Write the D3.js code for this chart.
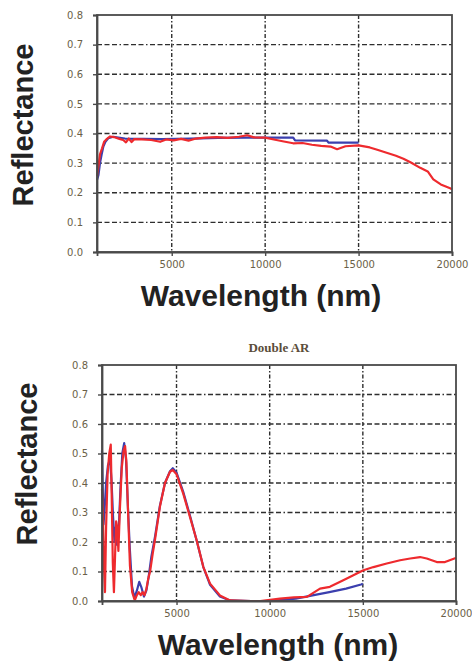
<!DOCTYPE html>
<html>
<head>
<meta charset="utf-8">
<script src="https://cdn.jsdelivr.net/npm/d3@7"></script>
<style>
  html, body { margin: 0; padding: 0; background: #fff; }
  svg { display: block; }
</style>
</head>
<body>
<svg id="fig" width="472" height="663"></svg>
<script>
// Reflectance spectra: measured (blue) and modelled (red), [wavelength nm, R]
const xTicks = [5000, 10000, 15000, 20000];
const yTicks = [0, 0.1, 0.2, 0.3, 0.4, 0.5, 0.6, 0.7, 0.8];
const xTitle = "Wavelength (nm)";
const yTitle = "Reflectance";
const bottomTitle = "Double AR";

// Upper panel
const topBlue = [
  [1000, 0.243], [1080, 0.26], [1160, 0.30], [1250, 0.33], [1340, 0.356], [1450, 0.372],
  [1600, 0.384], [1870, 0.389], [2500, 0.383], [3500, 0.382], [4500, 0.381],
  [6000, 0.383], [7500, 0.385], [9000, 0.386], [10500, 0.386], [11500, 0.386],
  [11600, 0.377], [13300, 0.376], [13400, 0.369], [15000, 0.369]
];
const topRed = [
  [1000, 0.255], [1080, 0.29], [1160, 0.33], [1270, 0.35], [1380, 0.372],
  [1500, 0.38], [1700, 0.39], [1900, 0.388], [2200, 0.382], [2400, 0.378],
  [2550, 0.37], [2700, 0.383], [2850, 0.371], [3000, 0.381], [3400, 0.38],
  [3900, 0.378], [4380, 0.372], [4700, 0.38], [5100, 0.377], [5500, 0.382],
  [5900, 0.376], [6300, 0.383], [6800, 0.386], [7400, 0.388], [8000, 0.385],
  [8600, 0.389], [9040, 0.394], [9400, 0.387], [10000, 0.386], [10600, 0.378],
  [11000, 0.373], [11500, 0.367], [12000, 0.368], [12500, 0.362], [13000, 0.358],
  [13500, 0.356], [13850, 0.347], [14300, 0.357], [15000, 0.36], [15600, 0.353],
  [16000, 0.345], [16500, 0.335], [17000, 0.325], [17400, 0.315], [17800, 0.302],
  [18300, 0.284], [18700, 0.272], [19000, 0.245], [19400, 0.228], [19900, 0.215],
  [20000, 0.212]
];

// Lower panel (double AR)
const botBlue = [
  [1000, 0.51], [1040, 0.38], [1080, 0.26], [1130, 0.30], [1220, 0.40], [1320, 0.46],
  [1430, 0.48], [1510, 0.41], [1590, 0.29], [1670, 0.20], [1740, 0.25], [1810, 0.19],
  [1890, 0.23], [1990, 0.38], [2090, 0.50], [2190, 0.535], [2290, 0.48], [2390, 0.32],
  [2490, 0.18], [2610, 0.05], [2740, 0.01], [2870, 0.035], [3000, 0.065], [3120, 0.045],
  [3250, 0.015], [3380, 0.035], [3500, 0.08], [3650, 0.15], [3850, 0.22], [4100, 0.32],
  [4380, 0.40], [4650, 0.44], [4800, 0.45], [5000, 0.435], [5360, 0.37], [5720, 0.29],
  [6080, 0.205], [6440, 0.115], [6800, 0.055], [7330, 0.015], [7870, 0.002], [9000, 0.0],
  [10000, 0.0], [11400, 0.008], [12300, 0.019], [13200, 0.03], [14100, 0.042],
  [14900, 0.056], [15000, 0.058]
];
const botRed = [
  [1000, 0.38], [1050, 0.30], [1100, 0.13], [1160, 0.03], [1220, 0.25], [1300, 0.43],
  [1390, 0.50], [1470, 0.53], [1520, 0.36], [1580, 0.13], [1640, 0.03], [1700, 0.15],
  [1760, 0.27], [1820, 0.25], [1880, 0.17], [1960, 0.31], [2060, 0.45], [2160, 0.51],
  [2240, 0.525], [2310, 0.47], [2400, 0.30], [2500, 0.12], [2620, 0.03], [2760, 0.002],
  [2870, 0.02], [2970, 0.03], [3080, 0.02], [3180, 0.03], [3280, 0.02], [3380, 0.04],
  [3480, 0.075], [3580, 0.10], [3720, 0.16], [3850, 0.21], [4110, 0.32], [4380, 0.40],
  [4650, 0.438], [4800, 0.444], [5000, 0.43], [5360, 0.364], [5720, 0.285], [6080, 0.206],
  [6440, 0.115], [6800, 0.059], [7330, 0.019], [7870, 0.002], [9000, 0.0], [9500, 0.0],
  [10550, 0.008], [11300, 0.012], [12000, 0.014], [12700, 0.042], [13230, 0.048],
  [13950, 0.07], [14490, 0.087], [15030, 0.104], [15570, 0.115], [16280, 0.127],
  [17000, 0.138], [17540, 0.144], [18070, 0.149], [18430, 0.144], [18970, 0.132],
  [19410, 0.132], [19950, 0.145], [20000, 0.146]
];

const BLUE = "#3b3fae";
const RED = "#ee2a2e";
const svg = d3.select("#fig");

function panel(opt) {
  const x = d3.scaleLinear().domain([1000, 20000]).range([opt.left, opt.right]);
  const y = d3.scaleLinear().domain([0, 0.8]).range([opt.bottom, opt.top]);
  const g = svg.append("g");

  // horizontal grid (dash-dot)
  g.append("g").selectAll("line")
    .data(yTicks.filter(v => v > 0 && v < 0.8))
    .join("line")
    .attr("x1", opt.left).attr("x2", opt.right)
    .attr("y1", d => y(d)).attr("y2", d => y(d))
    .attr("stroke", "#2e2e2e").attr("stroke-width", 1.4)
    .attr("stroke-dasharray", "5,2.5,5,2.5,5,2.5,1.5,2.5");

  // vertical grid (dash-dot)
  g.append("g").selectAll("line")
    .data(xTicks.filter(v => v < 20000))
    .join("line")
    .attr("x1", d => x(d)).attr("x2", d => x(d))
    .attr("y1", opt.top).attr("y2", opt.bottom)
    .attr("stroke", "#2e2e2e").attr("stroke-width", 1.4)
    .attr("stroke-dasharray", "4,2,1.5,2");

  const line = d3.line().x(d => x(d[0])).y(d => y(d[1]));
  g.append("path").datum(opt.blue).attr("d", line)
    .attr("fill", "none").attr("stroke", BLUE).attr("stroke-width", 2.2)
    .attr("stroke-linejoin", "round");
  g.append("path").datum(opt.red).attr("d", line)
    .attr("fill", "none").attr("stroke", RED).attr("stroke-width", 2.2)
    .attr("stroke-linejoin", "round");

  // frame
  g.append("rect")
    .attr("x", opt.left).attr("y", opt.top)
    .attr("width", opt.right - opt.left).attr("height", opt.bottom - opt.top)
    .attr("fill", "none").attr("stroke", "#4a4a4a").attr("stroke-width", 1.8);

  // axes
  const yAxis = d3.axisLeft(y).tickValues(yTicks).tickFormat(d3.format(".1f"))
    .tickSize(4).tickPadding(10);
  const xAxis = d3.axisBottom(x).tickValues(xTicks).tickFormat(d3.format("d"))
    .tickSize(4).tickPadding(5);
  const ya = g.append("g").attr("transform", `translate(${opt.left},0)`).call(yAxis);
  const xa = g.append("g").attr("transform", `translate(0,${opt.bottom})`).call(xAxis);
  [ya, xa].forEach(a => {
    a.select(".domain").attr("stroke", "#4a4a4a").attr("stroke-width", 1.8);
    a.selectAll(".tick line").attr("stroke", "#4a4a4a").attr("stroke-width", 1.4);
    a.selectAll("text").attr("fill", "#6b5f48")
      .style("font-family", "'DejaVu Sans', sans-serif").style("font-size", "10px");
  });

  // titles
  g.append("text")
    .attr("transform", `translate(${opt.yTitleX},${opt.yTitleY}) rotate(-90)`)
    .attr("text-anchor", "middle")
    .style("font-family", "'Liberation Sans', Arial, sans-serif")
    .style("font-weight", "bold").style("font-size", "29px").attr("fill", "#222")
    .text(yTitle);
  g.append("text")
    .attr("x", opt.xTitleX).attr("y", opt.xTitleY)
    .attr("text-anchor", "middle")
    .style("font-family", "'Liberation Sans', Arial, sans-serif")
    .style("font-weight", "bold").style("font-size", "30px").attr("fill", "#222")
    .text(xTitle);
  if (opt.title) {
    g.append("text")
      .attr("x", (opt.left + opt.right) / 2).attr("y", opt.top - 13)
      .attr("text-anchor", "middle")
      .style("font-family", "'Liberation Serif', serif")
      .style("font-weight", "bold").style("font-size", "13px").attr("fill", "#5b4d3a")
      .text(opt.title);
  }
}

panel({ left: 97, right: 452, top: 15, bottom: 252, blue: topBlue, red: topRed,
        yTitleX: 33, yTitleY: 125, xTitleX: 261, xTitleY: 306 });
panel({ left: 102, right: 456, top: 365, bottom: 601, blue: botBlue, red: botRed,
        yTitleX: 37, yTitleY: 464, xTitleX: 278, xTitleY: 655, title: bottomTitle });
</script>
</body>
</html>
